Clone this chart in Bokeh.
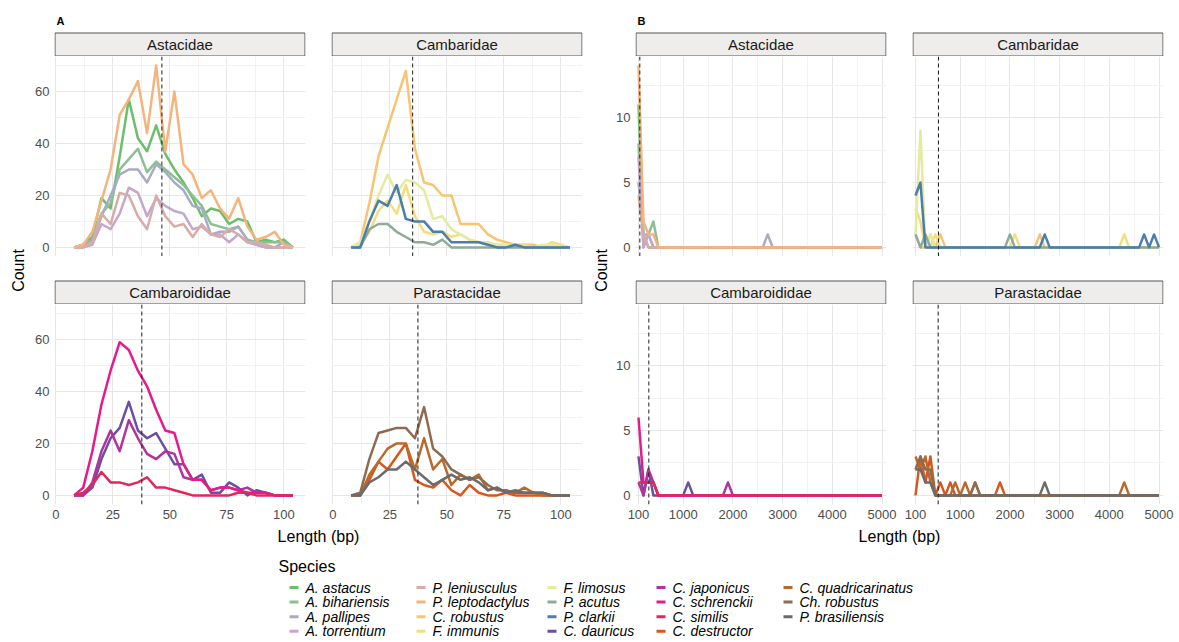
import math
from bokeh.plotting import figure
from bokeh.layouts import row, column
from bokeh.models import Range1d, FixedTicker, Span, AllLabels
from bokeh.core.properties import value
from bokeh.embed import file_html
from bokeh.resources import INLINE

FONT = "Liberation Sans"

# ---------------- data ----------------
FAMILIES = ["Astacidae", "Cambaridae", "Cambaroididae", "Parastacidae"]

SPECIES = ["A. astacus", "A. bihariensis", "A. pallipes", "A. torrentium",
           "P. leniusculus", "P. leptodactylus", "C. robustus", "F. immunis",
           "F. limosus", "P. acutus", "P. clarkii", "C. dauricus",
           "C. japonicus", "C. schrenckii", "C. similis", "C. destructor",
           "C. quadricarinatus", "Ch. robustus", "P. brasiliensis"]

SPECIES_FAMILY = ["Astacidae"] * 6 + ["Cambaridae"] * 5 + ["Cambaroididae"] * 4 + ["Parastacidae"] * 4

SPECIES_COLORS = ["#6cbf6a", "#8cbf94", "#a9abc4", "#c4a7cb",
                  "#d8aca6", "#f5b47c", "#f8c472", "#f3df78",
                  "#e4eb9e", "#8eab98", "#4b7db0", "#6b4fa2",
                  "#b2339b", "#e7198b", "#e0295b", "#d9561c",
                  "#b9692b", "#8e6b4f", "#6b6b6b"]

# Panel A: short sequences (length bins, bp)
A_LENGTH = [8, 12, 16, 20, 24, 28, 32, 36, 40, 44, 48, 52, 56, 60, 64, 68, 72, 76, 80, 84, 88, 92, 96, 100, 104]
A_COUNTS = {
    "A. astacus":        [0, 1, 4, 19, 15, 35, 57, 42, 37, 47, 36, 30, 25, 19, 12, 15, 14, 9, 11, 10, 2, 3, 2, 3, 0],
    "A. bihariensis":    [0, 1, 3, 13, 17, 30, 34, 38, 29, 33, 30, 27, 24, 20, 16, 9, 8, 7, 8, 3, 2, 2, 2, 2, 0],
    "A. pallipes":       [0, 1, 2, 12, 20, 28, 30, 30, 25, 32, 29, 25, 22, 16, 15, 5, 6, 6, 8, 3, 1, 0, 0, 2, 0],
    "A. torrentium":     [0, 0, 1, 9, 7, 13, 23, 21, 12, 19, 16, 14, 13, 7, 8, 5, 5, 2, 5, 2, 1, 0, 0, 0, 0],
    "P. leniusculus":    [0, 0, 2, 13, 9, 21, 20, 12, 7, 20, 12, 8, 9, 4, 9, 5, 4, 7, 5, 2, 2, 1, 0, 0, 0],
    "P. leptodactylus":  [0, 1, 6, 18, 30, 51, 57, 64, 44, 70, 37, 60, 32, 28, 19, 22, 15, 11, 19, 8, 3, 4, 6, 1, 0],
    "C. robustus":       [0, 2, 17, 35, 46, 57, 68, 38, 25, 24, 20, 20, 9, 9, 9, 5, 3, 2, 1, 1, 1, 0, 0, 0, 0],
    "F. immunis":        [0, 1, 6, 14, 18, 13, 24, 12, 6, 5, 6, 4, 5, 3, 2, 1, 1, 1, 0, 1, 0, 0, 2, 1, 0],
    "F. limosus":        [0, 2, 10, 20, 28, 21, 26, 25, 22, 11, 12, 7, 5, 3, 2, 2, 1, 1, 1, 0, 0, 1, 1, 0, 0],
    "P. acutus":         [0, 0, 7, 9, 9, 6, 4, 2, 2, 1, 3, 0, 0, 0, 0, 0, 0, 0, 0, 0, 0, 0, 0, 0, 0],
    "P. clarkii":        [0, 0, 10, 18, 16, 24, 11, 10, 10, 6, 6, 2, 2, 2, 2, 1, 0, 0, 1, 0, 0, 0, 0, 0, 0],
    "C. dauricus":       [0, 0, 3, 14, 22, 26, 36, 25, 22, 24, 18, 12, 12, 6, 8, 1, 1, 5, 3, 0, 2, 1, 0, 0, 0],
    "C. japonicus":      [0, 0, 5, 17, 25, 17, 29, 22, 16, 14, 17, 16, 7, 6, 6, 2, 3, 3, 2, 3, 1, 1, 0, 0, 0],
    "C. schrenckii":     [0, 3, 17, 35, 48, 59, 56, 48, 42, 33, 25, 24, 12, 6, 6, 2, 3, 3, 2, 1, 1, 1, 0, 0, 0],
    "C. similis":        [0, 1, 4, 9, 5, 5, 4, 5, 7, 3, 3, 2, 1, 0, 0, 0, 0, 0, 1, 1, 0, 0, 0, 0, 0],
    "C. destructor":     [0, 0, 6, 13, 10, 15, 20, 6, 4, 3, 6, 2, 0, 4, 1, 0, 0, 1, 0, 0, 0, 0, 0, 0, 0],
    "C. quadricarinatus": [0, 0, 8, 13, 18, 20, 20, 10, 22, 10, 14, 4, 8, 6, 8, 2, 3, 1, 1, 3, 1, 0, 0, 0, 0],
    "Ch. robustus":      [0, 1, 14, 24, 25, 26, 26, 22, 34, 18, 15, 10, 8, 6, 7, 4, 2, 2, 1, 1, 1, 1, 0, 0, 0],
    "P. brasiliensis":   [0, 0, 5, 7, 10, 10, 13, 10, 7, 4, 6, 8, 6, 7, 5, 2, 3, 1, 2, 1, 1, 1, 0, 0, 0],
}
A_FAMILY_MEAN = [46.5, 35.0, 37.7, 37.3]

# Panel B: long sequences (bins of 100 bp); only non-zero bins listed
B_LENGTH = list(range(100, 5001, 100))
B_COUNTS_NONZERO = {
    "A. astacus":        {100: 11, 200: 1},
    "A. bihariensis":    {100: 8, 300: 1, 400: 2},
    "A. pallipes":       {100: 5, 200: 1, 300: 1, 2700: 1},
    "A. torrentium":     {100: 7, 300: 1},
    "P. leniusculus":    {100: 4, 200: 1},
    "P. leptodactylus":  {100: 14, 200: 2, 300: 1, 400: 1},
    "C. robustus":       {100: 1, 400: 1, 600: 1, 2600: 1},
    "F. immunis":        {100: 3, 200: 2, 500: 1, 2100: 1, 4300: 1},
    "F. limosus":        {100: 1, 200: 9, 400: 1},
    "P. acutus":         {100: 1, 300: 1, 2000: 1},
    "P. clarkii":        {100: 4, 200: 5, 2700: 1, 4700: 1, 4900: 1},
    "C. dauricus":       {100: 3, 300: 2, 1100: 1},
    "C. japonicus":      {100: 1, 300: 2, 400: 1, 1900: 1},
    "C. schrenckii":     {100: 6, 200: 1, 300: 1, 400: 1},
    "C. similis":        {100: 1, 200: 1, 300: 1, 400: 1},
    "C. destructor":     {200: 3, 300: 1, 400: 3, 600: 1, 800: 1, 1800: 1},
    "C. quadricarinatus": {100: 3, 200: 2, 300: 3, 400: 1, 900: 1, 1100: 1, 1300: 1, 4300: 1},
    "Ch. robustus":      {100: 2, 200: 3, 300: 2, 400: 2, 1300: 1},
    "P. brasiliensis":   {100: 2, 200: 2, 300: 1, 400: 1, 2700: 1},
}
B_FAMILY_MEAN = [127, 563, 308, 557]

A_X_TICKS = [0, 25, 50, 75, 100]
A_X_MINOR = [12.5, 37.5, 62.5, 87.5]
A_Y_TICKS = [0, 20, 40, 60]
A_Y_MINOR = [10, 30, 50, 70]
B_X_TICKS = [100, 1000, 2000, 3000, 4000, 5000]
B_X_MINOR = [550, 1500, 2500, 3500, 4500]
B_Y_TICKS = [0, 5, 10]
B_Y_MINOR = [2.5, 7.5, 12.5]

# ---------------- styling / layout ----------------
GRID_MAJOR = "#e6e6e6"
GRID_MINOR = "#f2f2f2"
STRIP_FILL = "#efedeb"
STRIP_LINE = "#555555"
TICK_COLOR = "#4d4d4d"
LINE_W = 2.5

HEADER_H = 56
PANEL_H = 200
MID_H = 48
AXIS_H = 22
STRIP_H = 24
TITLE_H = 24
LEGEND_H = 92
TOP_H = HEADER_H + PANEL_H + MID_H + PANEL_H + AXIS_H   # 526

HALVES = {
    "A": dict(letter="A", xr=(-0.6, 109.5), yr=(-3.5, 73.5),
              xt=A_X_TICKS, xm=A_X_MINOR, yt=A_Y_TICKS, ym=A_Y_MINOR,
              cols=[(24, 13, 288), (13, 6, 270)], means=A_FAMILY_MEAN),
    "B": dict(letter="B", xr=(40, 5090), yr=(-0.7, 14.7),
              xt=B_X_TICKS, xm=B_X_MINOR, yt=B_Y_TICKS, ym=B_Y_MINOR,
              cols=[(23, 13, 287), (13, 16, 280)], means=B_FAMILY_MEAN),
}


def blank_fig(width, height, xr, yr, left=0, right=0):
    p = figure(width=width, height=height, x_range=Range1d(*xr), y_range=Range1d(*yr),
               x_axis_location=None, y_axis_location=None,
               min_border_left=left, min_border_right=right, min_border_top=0, min_border_bottom=0,
               output_backend="svg", toolbar_location=None)
    p.xgrid.visible = False
    p.ygrid.visible = False
    p.outline_line_color = None
    p.background_fill_color = None
    p.border_fill_color = "white"
    return p


def strip_fig(half, col, height, label, letter=None):
    left, right, width = HALVES[half]["cols"][col]
    fw = width - left - right
    p = blank_fig(width, height, (0, fw), (0, height), left, right)
    p.quad(left=[0.5], right=[fw - 0.5], bottom=[0.5], top=[STRIP_H - 0.5],
           fill_color=STRIP_FILL, line_color=STRIP_LINE, line_width=1)
    p.text(x=[fw / 2], y=[STRIP_H / 2], text=[label], text_font=value(FONT),
           text_font_size="15px", text_color="#1a1a1a", text_align="center",
           text_baseline="middle")
    if letter:
        p.text(x=[2], y=[height - 20], text=[letter], text_font=value(FONT),
               text_font_size="11px", text_font_style="bold", text_color="#000000",
               text_align="left", text_baseline="middle")
    return p


def panel_fig(half, col, rowi, fam_idx):
    cfg = HALVES[half]
    left, right, width = cfg["cols"][col]
    show_x = rowi == 1
    show_y = col == 0
    h = PANEL_H + (AXIS_H if show_x else 0)
    p = figure(width=width, height=h, x_range=Range1d(*cfg["xr"]), y_range=Range1d(*cfg["yr"]),
               x_axis_location="below" if show_x else None,
               y_axis_location="left" if show_y else None,
               min_border_left=left, min_border_right=right, min_border_top=0,
               min_border_bottom=AXIS_H if show_x else 0,
               output_backend="svg", toolbar_location=None)
    p.outline_line_color = None
    p.background_fill_color = "white"
    p.border_fill_color = "white"
    p.xgrid.ticker = FixedTicker(ticks=cfg["xt"], minor_ticks=cfg["xm"])
    p.ygrid.ticker = FixedTicker(ticks=cfg["yt"], minor_ticks=cfg["ym"])
    for g in (p.xgrid, p.ygrid):
        g.grid_line_color = GRID_MAJOR
        g.grid_line_width = 1
        g.minor_grid_line_color = GRID_MINOR
        g.minor_grid_line_width = 1
    axes = []
    if show_x:
        ax = p.xaxis[0]
        ax.ticker = FixedTicker(ticks=cfg["xt"])
        axes.append(ax)
    if show_y:
        ay = p.yaxis[0]
        ay.ticker = FixedTicker(ticks=cfg["yt"])
        axes.append(ay)
    for ax in axes:
        ax.axis_line_color = None
        ax.major_tick_line_color = None
        ax.minor_tick_line_color = None
        ax.major_tick_out = 0
        ax.major_tick_in = 0
        ax.minor_tick_out = 0
        ax.minor_tick_in = 0
        ax.major_label_standoff = 5
        ax.major_label_policy = AllLabels()
        ax.major_label_text_font = FONT
        ax.major_label_text_font_size = "13px"
        ax.major_label_text_color = TICK_COLOR

    fam = FAMILIES[fam_idx]
    for sp, spfam, color in zip(SPECIES, SPECIES_FAMILY, SPECIES_COLORS):
        if spfam != fam:
            continue
        if half == "A":
            xs, ys = A_LENGTH, A_COUNTS[sp]
        else:
            xs = B_LENGTH
            ys = [B_COUNTS_NONZERO[sp].get(b, 0) for b in B_LENGTH]
        p.line(x=xs, y=ys, line_color=color, line_width=LINE_W, line_join="round")
    p.add_layout(Span(location=cfg["means"][fam_idx], dimension="height",
                      line_color="#222222", line_dash="4 3", line_width=1))
    return p


def half_columns(half):
    cols = []
    for col in range(2):
        top_fam = col
        bot_fam = 2 + col
        header = strip_fig(half, col, HEADER_H, FAMILIES[top_fam],
                           HALVES[half]["letter"] if col == 0 else None)
        top = panel_fig(half, col, 0, top_fam)
        mid = strip_fig(half, col, MID_H, FAMILIES[bot_fam])
        bot = panel_fig(half, col, 1, bot_fam)
        cols.append(column(header, top, mid, bot, spacing=0))
    return cols


def count_fig(width, cx):
    p = blank_fig(width, TOP_H, (0, width), (0, TOP_H))
    p.text(x=[cx], y=[TOP_H - 270], text=["Count"], angle=math.pi / 2,
           text_font=value(FONT), text_font_size="16px", text_color="#000000",
           text_align="center", text_baseline="middle")
    return p


def title_fig(width, cx):
    p = blank_fig(width, TITLE_H, (0, width), (0, TITLE_H))
    p.text(x=[cx], y=[TITLE_H - 10], text=["Length (bp)"], text_font=value(FONT),
           text_font_size="16px", text_color="#000000", text_align="center",
           text_baseline="middle")
    return p


# legend
LEG_COL_X = [289, 416, 547, 656, 783]
LEG_KEY_LEN = 9
LEG_TEXT_GAP = 7
LEG_ROW_TOP = 37
LEG_ROW_DY = 14.6
LEG_TITLE_X = 278
LEG_TITLE_TOP = 16


def legend_fig():
    W = 1179
    p = blank_fig(W, LEGEND_H, (0, W), (0, LEGEND_H))
    p.text(x=[LEG_TITLE_X], y=[LEGEND_H - LEG_TITLE_TOP], text=["Species"],
           text_font=value(FONT), text_font_size="16px", text_color="#000000",
           text_align="left", text_baseline="middle")
    x0, x1, ys, tx = [], [], [], []
    for i, sp in enumerate(SPECIES):
        c, r = divmod(i, 4)
        y = LEGEND_H - (LEG_ROW_TOP + r * LEG_ROW_DY)
        x0.append(LEG_COL_X[c])
        x1.append(LEG_COL_X[c] + LEG_KEY_LEN)
        ys.append(y)
        tx.append(LEG_COL_X[c] + LEG_KEY_LEN + LEG_TEXT_GAP)
    p.segment(x0=x0, x1=x1, y0=ys, y1=ys, line_color=SPECIES_COLORS, line_width=3)
    p.text(x=tx, y=ys, text=SPECIES, text_font=value(FONT), text_font_size="14px",
           text_font_style="italic", text_color="#000000", text_align="left",
           text_baseline="middle")
    return p


a_cols = half_columns("A")
b_cols = half_columns("B")
top_row = row(count_fig(30, 18), a_cols[0], a_cols[1], count_fig(24, 13), b_cols[0], b_cols[1], spacing=0)
title_row = row(title_fig(588, 318), title_fig(591, 311), spacing=0)
layout = column(top_row, title_row, legend_fig(), spacing=0)

open("out.html", "w").write(file_html(layout, INLINE))
